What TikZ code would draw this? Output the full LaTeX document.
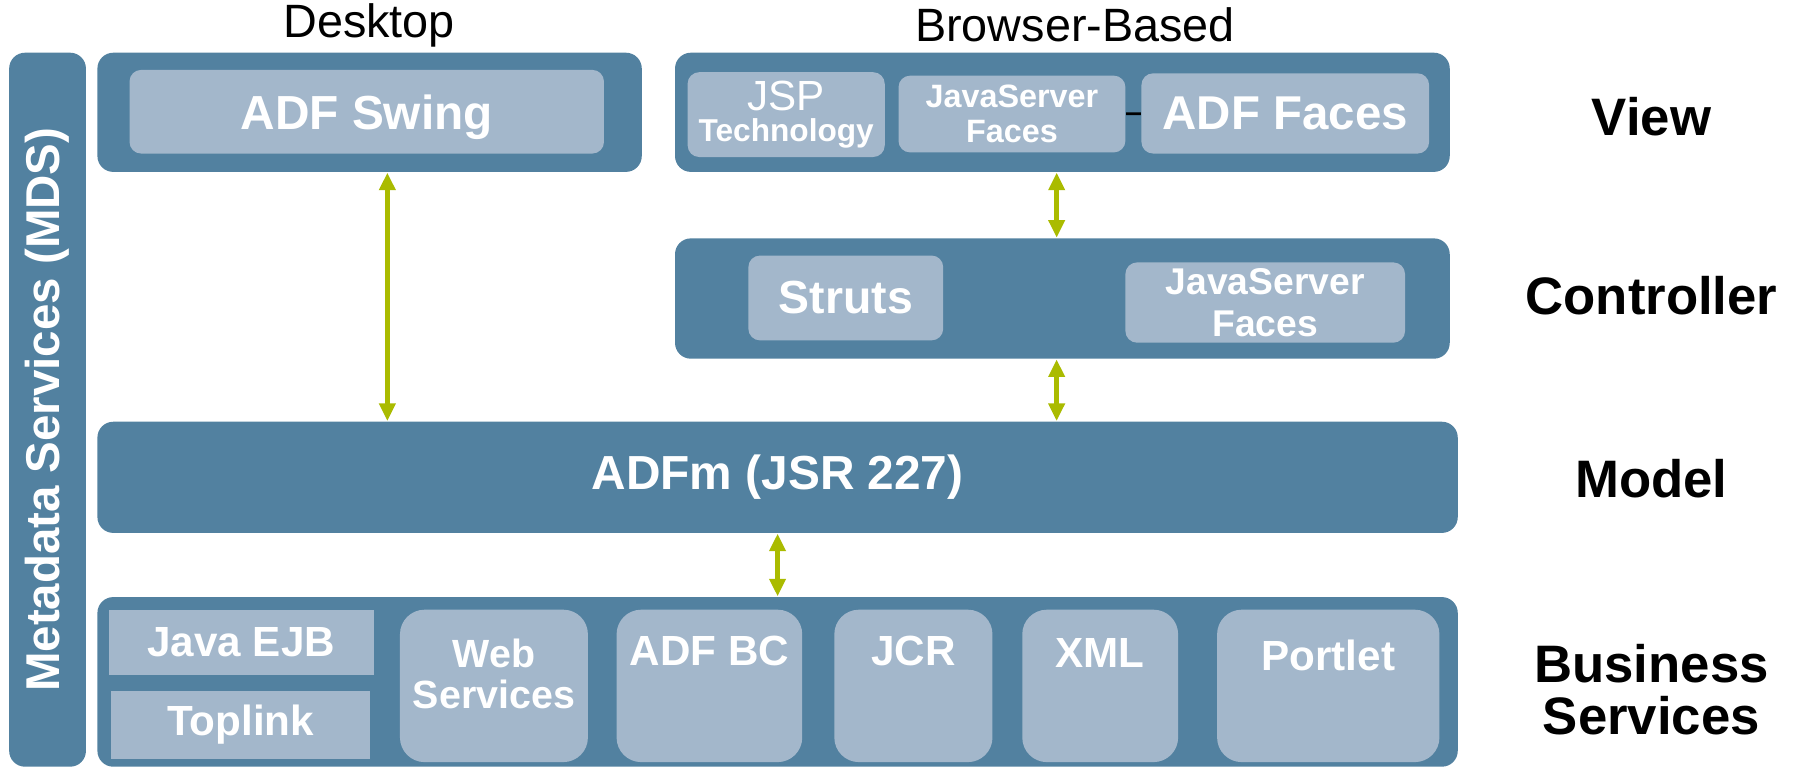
\documentclass[tikz,border=0pt]{standalone}
\usepackage{fontspec}
\setmainfont{Liberation Sans}
\usepackage{tikz}
\usetikzlibrary{arrows.meta,positioning}
\definecolor{tierblue}{RGB}{82,129,160}
\definecolor{partblue}{RGB}{163,183,203}
\definecolor{linkgreen}{RGB}{170,187,0}
\newcommand{\pxl}{0.01146cm}
\newcommand{\setfs}[2]{\fontsize{#1}{#2}\selectfont}

\tikzset{
  dims/.style 2 args={minimum width=#1*\pxl, minimum height=#2*\pxl},
  tier/.style={fill=tierblue, rounded corners=4.5pt, inner sep=0pt},
  part/.style={fill=partblue, rounded corners=3.3pt, inner sep=0pt, text=white, align=center, font=\bfseries},
  slot/.style={part, rounded corners=7pt},
  flat/.style={part, sharp corners},
  slottxt/.style={text=white, align=center, inner sep=0pt, font=\bfseries\setfs{12}{14}},
  layer/.style={align=center, inner sep=0pt, font=\bfseries\setfs{15}{14.8}},
  side/.style={inner sep=0pt, font=\setfs{13.3}{15}},
  link/.style={draw=linkgreen, line width=1.3pt, {Triangle[length=5pt,width=4.5pt]}-{Triangle[length=5pt,width=4.5pt]}}
}

\begin{document}
\begin{tikzpicture}[x=\pxl, y=-\pxl]
\useasboundingbox (0,0) rectangle (1568,671);

% metadata bar
\node[tier, dims={623}{67}, rotate=90, text=white, font=\bfseries\setfs{13.5}{15}] (mds) at (41.5,357.5) {Metadata Services (MDS)};

% view tier
\node[side] (deskhead) at (322,22) {Desktop};
\node[side] (webhead) at (938,22) {Browser-Based};
\node[tier, dims={475}{104}] (desk) at (322.5,98) {};
\node[part, dims={414}{73}, text depth=0pt, font=\bfseries\setfs{13.6}{15}] (swing) at (320,97.5) {ADF Swing};
\node[tier, dims={676}{104}] (browser) at (927,98) {};
\node[part, dims={172}{74}, font=\bfseries\setfs{9}{9}] (jsp) at (686,100) {{\mdseries\setfs{12}{12}JSP}\\Technology};
\node[part, dims={198}{67}, font=\bfseries\setfs{9.2}{9.8}] (jsf) at (883,99.5) {JavaServer\\Faces};
\node[part, dims={251}{70}, font=\bfseries\setfs{13.5}{15}] (faces) at (1121.5,99) {ADF Faces};
\draw[line width=0.8pt] (jsf) -- (faces);

% controller tier
\node[tier, dims={676}{105}] (ctrl) at (927,260.5) {};
\node[part, dims={170}{74}, font=\bfseries\setfs{13.2}{15}] (struts) at (738,260) {Struts};
\node[part, dims={244}{70}, font=\bfseries\setfs{10.6}{12.1}] (jsfctrl) at (1104,264) {JavaServer\\Faces};

% model tier
\node[tier, dims={1187}{97}, text=white, font=\bfseries\setfs{13.6}{15}] (model) at (678.5,416.5) {ADFm (JSR 227)};

% business services tier
\node[tier, dims={1187}{148}] (biz) at (678.5,595) {};
\node[flat, dims={231}{57}, font=\bfseries\setfs{12}{14}] (ejb) at (210.5,560.5) {Java EJB};
\node[flat, dims={226}{59}, font=\bfseries\setfs{12}{14}] (toplink) at (210,632.5) {Toplink};
\node[slot, dims={164}{133}] (web) at (431,598.5) {};
\node[slot, dims={162}{133}] (adfbc) at (619,598.5) {};
\node[slot, dims={138}{133}] (jcr) at (797,598.5) {};
\node[slot, dims={136}{133}] (xml) at (960,598.5) {};
\node[slot, dims={194}{133}] (portlet) at (1159,598.5) {};
\node[slottxt, font=\bfseries\setfs{11.2}{11.8}] (webtxt) at (431,588) {Web\\Services};
\node[slottxt] (adfbctxt) at (619,568) {ADF BC};
\node[slottxt] (jcrtxt) at (797,568) {JCR};
\node[slottxt] (xmltxt) at (960,570) {XML};
\node[slottxt] (portlettxt) at (1159,572) {Portlet};

% layer names
\node[layer] (lview) at (1441,102) {View};
\node[layer] (lctrl) at (1441,258) {Controller};
\node[layer] (lmodel) at (1441,418) {Model};
\node[layer] (lbiz) at (1441,602) {Business\\Services};

% links
\draw[link] ([xshift=15.5*\pxl]desk.south) -- ([xshift=15.5*\pxl]desk.south |- model.north);
\draw[link] ([xshift=-5*\pxl]browser.south) -- ([xshift=-5*\pxl]ctrl.north);
\draw[link] ([xshift=-5*\pxl]ctrl.south) -- ([xshift=-5*\pxl]ctrl.south |- model.north);
\draw[link] (model.south) -- (biz.north);
\end{tikzpicture}
\end{document}
